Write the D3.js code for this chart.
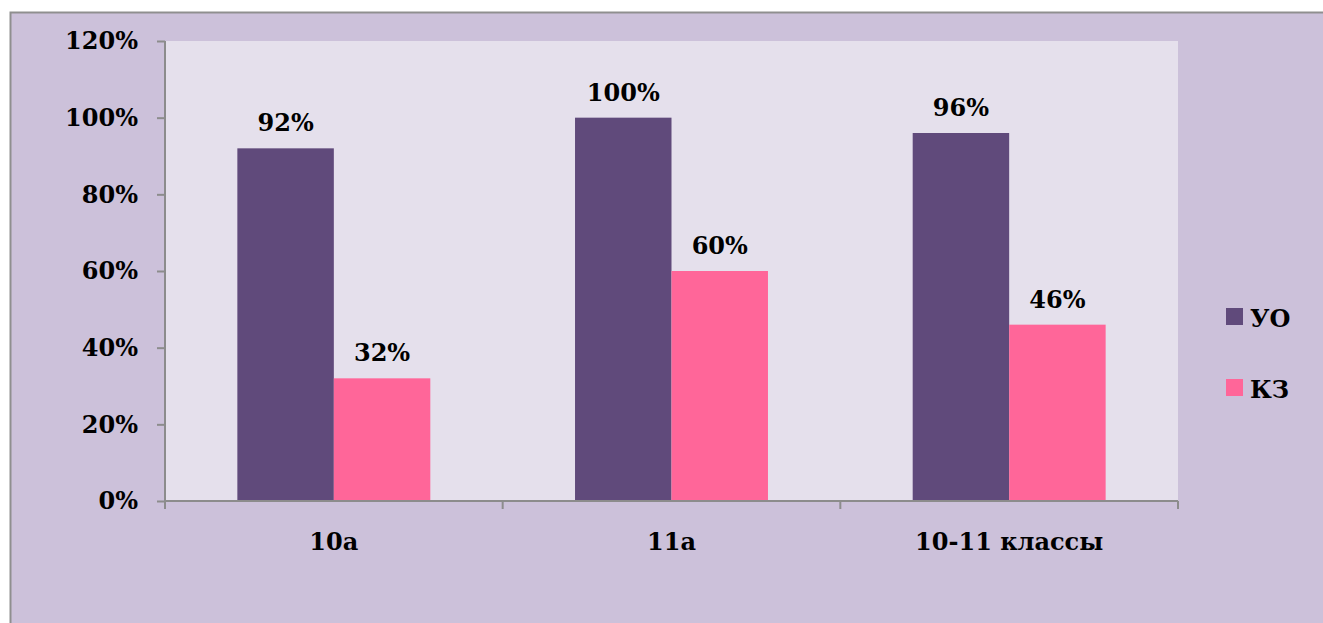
<!DOCTYPE html>
<html>
<head>
<meta charset="utf-8">
<script src="https://cdn.jsdelivr.net/npm/d3@7"></script>
<style>
  html, body { margin: 0; padding: 0; background: #ffffff; }
  svg { display: block; }
  svg text { font-family: "DejaVu Serif", serif; font-weight: bold; font-size: 24px; fill: #000; }
</style>
</head>
<body>
<svg id="chart" width="1323" height="623"></svg>
<script>
"use strict";

var categories = ["10а", "11а", "10-11 классы"];
var seriesNames = ["УО", "КЗ"];
var uoValues = [92, 100, 96];
var kzValues = [32, 60, 46];
var yTicks = [0, 20, 40, 60, 80, 100, 120];

var colors = { "УО": "#604a7b", "КЗ": "#ff6699" };
var font = "\"DejaVu Serif\", serif";

var svg = d3.select("#chart");

// outer frame, runs off the right and bottom edges
svg.append("rect")
    .attr("x", 10.5).attr("y", 12.5)
    .attr("width", 1340).attr("height", 640)
    .attr("fill", "#ccc1da")
    .attr("stroke", "#8f8f8f")
    .attr("stroke-width", 2);

var plot = { left: 165, top: 41, right: 1178, bottom: 501 };

var x0 = d3.scaleBand()
    .domain(categories)
    .range([plot.left, plot.right])
    .paddingInner(0)
    .paddingOuter(0);

var x1 = d3.scaleBand()
    .domain(seriesNames)
    .range([0, x0.bandwidth()])
    .paddingInner(0)
    .paddingOuter(0.75);

var y = d3.scaleLinear()
    .domain([0, 120])
    .range([plot.bottom, plot.top]);

svg.append("rect")
    .attr("x", plot.left).attr("y", plot.top)
    .attr("width", plot.right - plot.left)
    .attr("height", plot.bottom - plot.top)
    .attr("fill", "#e5e0ec");

var rows = categories.map(function(c, i) {
    return { cat: c, values: [
        { name: "УО", value: uoValues[i] },
        { name: "КЗ", value: kzValues[i] }
    ] };
});

var groups = svg.append("g").selectAll("g")
    .data(rows)
    .enter()
    .append("g")
      .attr("transform", function(d) { return "translate(" + x0(d.cat) + ",0)"; });

groups.selectAll("rect")
    .data(function(d) { return d.values; })
    .enter()
    .append("rect")
      .attr("x", function(d) { return x1(d.name); })
      .attr("y", function(d) { return y(d.value); })
      .attr("width", x1.bandwidth())
      .attr("height", function(d) { return y(0) - y(d.value); })
      .attr("fill", function(d) { return colors[d.name]; });

groups.selectAll("text")
    .data(function(d) { return d.values; })
    .enter()
    .append("text")
      .text(function(d) { return d.value + "%"; })
      .attr("x", function(d) { return x1(d.name) + x1.bandwidth() / 2; })
      .attr("y", function(d) { return y(d.value) - 17; })
      .attr("text-anchor", "middle");

// y axis
var yAxis = svg.append("g")
    .attr("transform", "translate(" + plot.left + ",0)")
    .call(d3.axisLeft(y).tickValues(yTicks).tickSize(8).tickPadding(19)
        .tickFormat(function(d) { return d + "%"; }));

// x axis
var xAxis = svg.append("g")
    .attr("transform", "translate(0," + plot.bottom + ")")
    .call(d3.axisBottom(x0).tickSize(0).tickPadding(32));

var xEdges = [plot.left].concat(categories.map(function(c) { return x0(c) + x0.bandwidth(); }));
xAxis.selectAll(".edge")
    .data(xEdges)
    .enter()
    .append("line")
      .attr("class", "edge")
      .attr("x1", function(d) { return d; })
      .attr("x2", function(d) { return d; })
      .attr("y1", 0).attr("y2", 8);

[yAxis, xAxis].forEach(function(ax) {
    ax.attr("font-family", null).attr("font-size", null);
    ax.select(".domain").attr("stroke", "#8c8c8c").attr("stroke-width", 2)
        .attr("d", ax === yAxis
            ? "M0," + plot.bottom + "V" + plot.top
            : "M" + plot.left + ",0H" + plot.right);
    ax.selectAll("line").attr("stroke", "#8c8c8c").attr("stroke-width", 2);
    ax.selectAll("text").style("font-family", font).attr("fill", "black");
});

// legend
var legend = svg.append("g").selectAll("g")
    .data(seriesNames)
    .enter()
    .append("g")
      .attr("transform", function(d, i) { return "translate(1226," + (308 + i * 71) + ")"; });

legend.append("rect")
    .attr("width", 17).attr("height", 17)
    .attr("fill", function(d) { return colors[d]; });

legend.append("text")
    .text(function(d) { return d; })
    .attr("x", 24).attr("y", 19);
</script>
</body>
</html>
